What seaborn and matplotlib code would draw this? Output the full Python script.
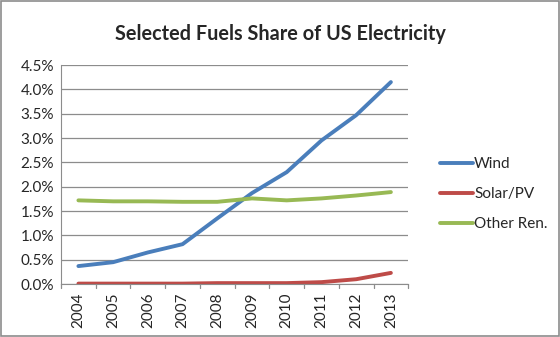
import matplotlib
matplotlib.use("Agg")
import matplotlib.pyplot as plt
import seaborn as sns
import pandas as pd
from matplotlib.ticker import FuncFormatter, MultipleLocator

years = [2004, 2005, 2006, 2007, 2008, 2009, 2010, 2011, 2012, 2013]
wind = [0.37, 0.45, 0.65, 0.82, 1.35, 1.87, 2.30, 2.95, 3.47, 4.15]
solar = [0.01, 0.01, 0.01, 0.01, 0.02, 0.02, 0.02, 0.04, 0.10, 0.23]
other = [1.72, 1.70, 1.70, 1.69, 1.69, 1.76, 1.72, 1.76, 1.82, 1.89]
series_names = ["Wind", "Solar/PV", "Other Ren."]
colors = ["#4A7EBB", "#BE4B48", "#98B954"]

sns.set_style("white")
plt.rcParams["font.family"] = ["Lato", "DejaVu Sans"]

df = pd.DataFrame({"x": list(range(len(years))) * 3,
                   "value": wind + solar + other,
                   "series": [series_names[0]] * 10 + [series_names[1]] * 10 + [series_names[2]] * 10})

fig = plt.figure(figsize=(5.6, 3.37), dpi=100)
ax = fig.add_axes([0.109, 0.157, 0.62, 0.65])
sns.lineplot(data=df, x="x", y="value", hue="series", palette=colors,
             hue_order=series_names, linewidth=2.8, ax=ax, legend=False)

ax.set_xlim(-0.5, len(years) - 0.5)
ax.set_ylim(0, 4.5)
ax.yaxis.set_major_locator(MultipleLocator(0.5))
ax.yaxis.set_major_formatter(FuncFormatter(lambda v, p: f"{v:.1f}%"))
ax.yaxis.grid(True, color="#8c8c8c", linewidth=0.9)
ax.set_xticks(range(len(years)))
ax.set_xticklabels([str(y) for y in years], rotation=90, fontsize=11)
ax.tick_params(axis="x", length=0, pad=6)
ax.tick_params(axis="y", length=0, labelsize=11, pad=5)
for xb in [i - 0.5 for i in range(len(years) + 1)]:
    ax.plot([xb, xb], [0, -0.08], color="#8c8c8c", lw=0.9, clip_on=False)
ax.set_xlabel("")
ax.set_ylabel("")
for s in ["top", "right"]:
    ax.spines[s].set_visible(False)
ax.spines["left"].set_color("#8c8c8c")
ax.spines["bottom"].set_color("#8c8c8c")

handles = [plt.Line2D([0], [0], color=c, lw=2.8) for c in colors]
fig.legend(handles, series_names, loc="upper left", bbox_to_anchor=(0.762, 0.575),
           frameon=False, fontsize=11, handlelength=2.1, handletextpad=0.1,
           labelspacing=1.05)

fig.text(0.5, 0.90, "Selected Fuels Share of US Electricity", ha="center", va="center",
         fontsize=14.3, fontweight="bold")

border = plt.Rectangle((0.002, 0.003), 0.996, 0.994, transform=fig.transFigure,
                       fill=False, edgecolor="#8c8c8c", lw=1.2)
fig.patches.append(border)

fig.savefig("out.png", dpi=100)
